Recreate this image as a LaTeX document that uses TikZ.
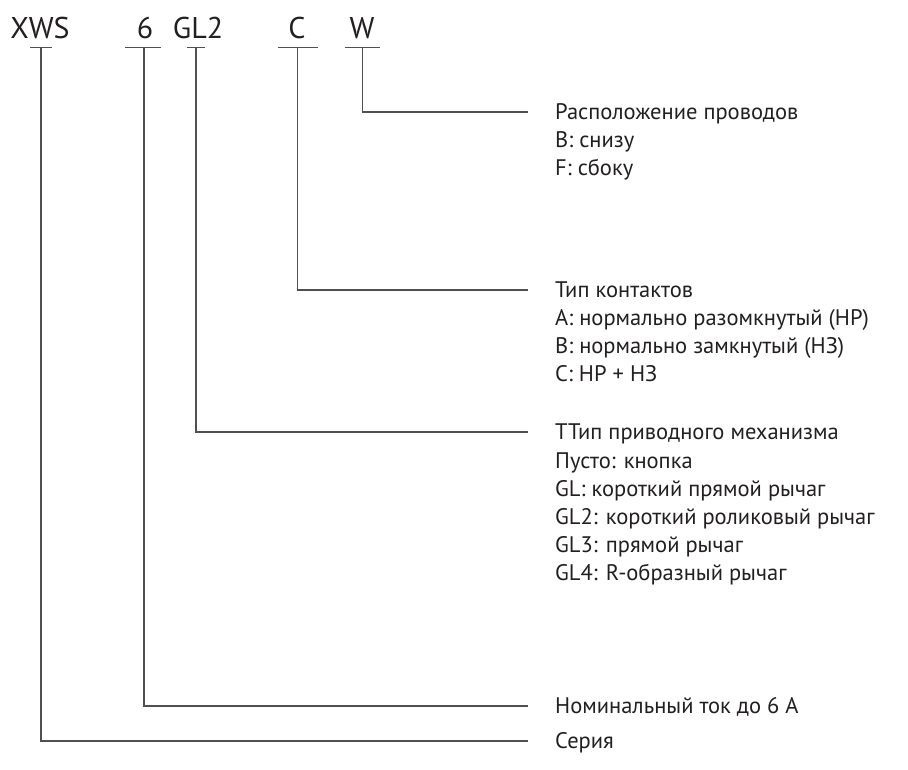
\documentclass[tikz,border=0pt]{standalone}
\usepackage{fontspec}
\setmainfont{PT Sans}
\usetikzlibrary{positioning,calc}
\definecolor{ink}{HTML}{231F20}
\definecolor{leadgray}{HTML}{505050}
\tikzset{
  code/.style={font=\fontsize{30}{30}\selectfont, text=ink, inner sep=0pt, text height=21pt, text depth=0pt},
  lbl/.style={font=\fontsize{22.5}{22.5}\selectfont, text=ink, inner sep=0pt, anchor=west, text height=15.7pt, text depth=0pt},
  lead/.style={draw=leadgray, line width=1.1pt}
}
\begin{document}
\begin{tikzpicture}[x=1pt, y=-1pt]
  \useasboundingbox (0,0) rectangle (908,769);

  % code letters
  \node[code] (cXWS) at (40,27.5) {XWS};
  \node[code] (cCur) at (145,27.5) {6};
  \node[code] (cAct) at (198,27.5) {GL2};
  \node[code] (cCon) at (297,27.5) {C};
  \node[code] (cWir) at (362,27.5) {W};

  \coordinate (tXWS) at (41,47.5);
  \coordinate (tCur) at (144,47.5);
  \coordinate (tAct) at (196,47.5);
  \coordinate (tCon) at (297.5,47.5);
  \coordinate (tWir) at (362.5,47.5);

  % underlines
  \draw[lead] ([xshift=-11pt]tXWS) -- ([xshift=11pt]tXWS);
  \draw[lead] ([xshift=-19pt]tCur) -- ([xshift=17pt]tCur);
  \draw[lead] ([xshift=-9pt]tAct) -- ([xshift=9pt]tAct);
  \draw[lead] ([xshift=-20pt]tCon) -- ([xshift=20pt]tCon);
  \draw[lead] ([xshift=-18pt]tWir) -- ([xshift=17pt]tWir);

  % descriptions
  \foreach \txt [count=\i from 0] in {Расположение проводов, B: снизу, F: сбоку}
    \node[lbl] (w\i) at (555,112+28*\i) {\txt};
  \foreach \txt [count=\i from 0] in {Тип контактов, A: нормально разомкнутый (НР), B: нормально замкнутый (НЗ), C: НР + НЗ}
    \node[lbl] (k\i) at (555,290+28*\i) {\txt};
  \foreach \txt [count=\i from 0] in {ТТип приводного механизма, Пусто: кнопка, GL: короткий прямой рычаг, GL2: короткий роликовый рычаг, GL3: прямой рычаг, GL4: R-образный рычаг}
    \node[lbl] (a\i) at (555,432+28.2*\i) {\txt};
  \node[lbl] (n0) at (555,706) {Номинальный ток до 6 А};
  \node[lbl] (s0) at (555,741) {Серия};

  % leaders
  \draw[lead] (tWir) |- ([xshift=-27pt]w0.west);
  \draw[lead] (tCon) |- ([xshift=-27pt]k0.west);
  \draw[lead] (tAct) |- ([xshift=-27pt]a0.west);
  \draw[lead] (tCur) |- ([xshift=-27pt]n0.west);
  \draw[lead] (tXWS) |- ([xshift=-27pt]s0.west);
\end{tikzpicture}
\end{document}
